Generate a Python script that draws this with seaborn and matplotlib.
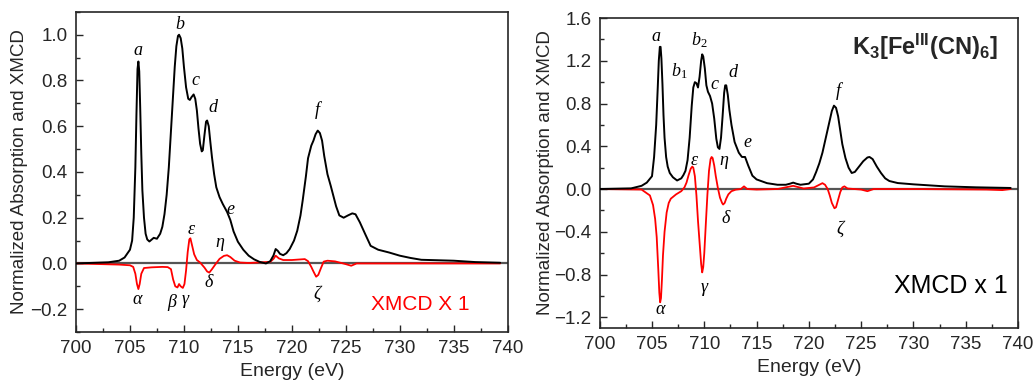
import numpy as np
import pandas as pd
import matplotlib.pyplot as plt
import seaborn as sns
from matplotlib.ticker import MultipleLocator

# ---- data ----
# left panel, absorption (black)
left_abs_e = [700, 703, 704, 704.5, 705.0, 705.2, 705.35, 705.5, 705.6, 705.7, 705.78, 705.86,
              705.95, 706.05, 706.15, 706.3, 706.45, 706.6, 706.8, 707.0, 707.2, 707.5, 707.8,
              708.0, 708.2, 708.4, 708.6, 708.8, 709.0, 709.15, 709.3, 709.45, 709.55, 709.7,
              709.85, 710.0, 710.2, 710.4, 710.55, 710.7, 710.9, 711.05, 711.2, 711.35, 711.5,
              711.65, 711.75, 711.9, 712.05, 712.15, 712.3, 712.45, 712.6, 712.8, 713.0, 713.3,
              713.6, 714.0, 714.3, 714.6, 715.0, 715.5, 716.0, 716.5, 717.0, 717.6, 718.0,
              718.3, 718.5, 718.7, 718.9, 719.2, 719.5, 719.8, 720.2, 720.5, 720.8, 721.0,
              721.3, 721.5, 721.8, 722.0, 722.2, 722.4, 722.6, 722.8, 723.0, 723.3, 723.6,
              723.8, 724.1, 724.4, 724.8, 725.2, 725.6, 725.9, 726.3, 726.8, 727.3, 728.0,
              729.0, 730.0, 731.0, 732.0, 735.0, 737.0, 739.3]
left_abs = [0.0, 0.005, 0.012, 0.026, 0.06, 0.10, 0.2, 0.42, 0.65, 0.85, 0.883, 0.84,
            0.68, 0.48, 0.32, 0.2, 0.13, 0.105, 0.096, 0.104, 0.112, 0.108, 0.13,
            0.16, 0.216, 0.3, 0.42, 0.58, 0.74, 0.86, 0.95, 0.995, 1.0, 0.985,
            0.94, 0.86, 0.77, 0.72, 0.715, 0.727, 0.739, 0.72, 0.669, 0.59, 0.523,
            0.49, 0.495, 0.56, 0.62, 0.625, 0.60, 0.53, 0.464, 0.39, 0.333, 0.29,
            0.26, 0.225, 0.19, 0.14, 0.095, 0.06, 0.034, 0.018, 0.007, 0.0, 0.01,
            0.035, 0.063, 0.055, 0.042, 0.036, 0.045, 0.063, 0.1, 0.143, 0.21, 0.274,
            0.38, 0.46, 0.515, 0.537, 0.565, 0.581, 0.57, 0.537, 0.47, 0.39, 0.34,
            0.304, 0.25, 0.21, 0.2, 0.21, 0.219, 0.215, 0.18, 0.128, 0.077, 0.06,
            0.048, 0.034, 0.024, 0.016, 0.012, 0.006, 0.003]

# left panel, XMCD (red)
left_xmcd_e = [700, 704, 705.0, 705.3, 705.5, 705.65, 705.78, 705.9, 706.05, 706.3, 707, 708,
               708.5, 708.8, 709.0, 709.2, 709.4, 709.55, 709.7, 709.9, 710.05, 710.2, 710.35,
               710.5, 710.6, 710.75, 710.95, 711.2, 711.5, 711.9, 712.15, 712.35, 712.6, 712.9,
               713.3, 713.7, 714.0, 714.3, 714.7, 715.2, 716, 718, 718.3, 718.5, 718.8,
               719.2, 720, 721.2, 721.5, 721.8, 722.0, 722.25, 722.45, 722.7, 722.95, 723.3,
               724.0, 725.0, 725.5, 726, 730, 739.3]
left_xmcd = [0.0, -0.005, -0.008, -0.015, -0.045, -0.09, -0.112, -0.09, -0.045, -0.02, -0.017, -0.015,
             -0.016, -0.025, -0.07, -0.1, -0.105, -0.09, -0.1, -0.107, -0.09, -0.03, 0.05,
             0.105, 0.11, 0.08, 0.04, 0.015, 0.004, -0.018, -0.035, -0.04, -0.025, -0.005,
             0.02, 0.033, 0.036, 0.028, 0.012, 0.004, 0.002, 0.007, 0.02, 0.034, 0.022,
             0.015, 0.015, 0.019, 0.01, -0.015, -0.035, -0.058, -0.05, -0.02, 0.008, 0.012,
             0.009, -0.003, -0.01, 0.0, 0.0, 0.0]

# right panel, absorption (black)
right_abs_e = [700, 703, 704, 704.5, 705.0, 705.2, 705.4, 705.55, 705.65, 705.75, 705.82, 705.9,
               706.0, 706.1, 706.2, 706.35, 706.5, 706.7, 707.0, 707.4, 707.8, 708.0, 708.2,
               708.4, 708.6, 708.8, 708.95, 709.1, 709.25, 709.4, 709.55, 709.7, 709.8, 709.9,
               710.05, 710.2, 710.35, 710.55, 710.75, 710.95, 711.15, 711.3, 711.45, 711.6,
               711.75, 711.9, 712.0, 712.1, 712.25, 712.4, 712.6, 712.9, 713.3, 713.6, 713.9,
               714.2, 714.6, 715.0, 716, 717, 717.8, 718.2, 718.5, 718.8, 719.2, 720.0,
               720.4, 720.7, 721.0, 721.3, 721.6, 721.9, 722.2, 722.4, 722.6, 722.8, 723.0,
               723.2, 723.5, 723.8, 724.1, 724.4, 724.8, 725.2, 725.6, 725.8, 726.1, 726.5,
               726.9, 727.3, 727.7, 728.5, 730, 733, 736, 739.3]
right_abs = [0.0, 0.006, 0.03, 0.06, 0.12, 0.3, 0.6, 0.95, 1.2, 1.33, 1.33, 1.22,
             0.98, 0.69, 0.48, 0.3, 0.21, 0.15, 0.11, 0.08, 0.1, 0.13, 0.17,
             0.27, 0.48, 0.78, 0.95, 1.0, 0.99, 0.95, 1.05, 1.2, 1.26, 1.24,
             1.13, 0.97, 0.91, 0.87, 0.8, 0.66, 0.47, 0.39, 0.375, 0.48,
             0.68, 0.9, 0.97, 0.97, 0.88, 0.74, 0.6, 0.44, 0.34, 0.30, 0.30,
             0.22, 0.125, 0.09, 0.055, 0.04, 0.04, 0.05, 0.06, 0.05, 0.04, 0.05,
             0.09, 0.16, 0.24, 0.34, 0.47, 0.6, 0.73, 0.78, 0.76, 0.68, 0.55,
             0.42, 0.29, 0.2, 0.15, 0.16, 0.21, 0.26, 0.295, 0.30, 0.28, 0.21,
             0.15, 0.1, 0.075, 0.056, 0.044, 0.025, 0.016, 0.01]

# right panel, XMCD (red)
right_xmcd_e = [700, 704, 704.8, 705.1, 705.3, 705.45, 705.6, 705.7, 705.78, 705.86, 705.95, 706.05,
                706.2, 706.4, 706.6, 706.8, 707.3, 707.8, 708.1, 708.3, 708.5, 708.7, 708.85,
                708.95, 709.1, 709.25, 709.4, 709.55, 709.7, 709.8, 709.9, 710.0, 710.15, 710.3,
                710.45, 710.6, 710.7, 710.8, 710.95, 711.1, 711.3, 711.5, 711.7, 711.8, 711.95,
                712.1, 712.3, 712.6, 713.0, 713.5, 713.8, 714.1, 715, 717, 718.5, 719.5,
                720.5, 721.0, 721.3, 721.55, 721.8, 722.0, 722.2, 722.45, 722.6, 722.8, 723.0,
                723.2, 723.4, 723.7, 725.0, 725.6, 726.2, 730, 737, 738.5, 739.3]
right_xmcd = [0.0, -0.005, -0.06, -0.15, -0.28, -0.45, -0.75, -0.97, -1.06, -1.02, -0.85, -0.62,
              -0.4, -0.22, -0.13, -0.09, -0.05, -0.02, 0.015, 0.06, 0.13, 0.19, 0.21,
              0.2, 0.12, -0.06, -0.3, -0.5, -0.7, -0.78, -0.73, -0.6, -0.32, -0.05,
              0.17, 0.28, 0.30, 0.29, 0.22, 0.12, 0.01, -0.08, -0.13, -0.145, -0.13,
              -0.09, -0.05, -0.02, -0.006, 0.0, 0.025, 0.0, -0.005, 0.0, 0.03, 0.005,
              0.015, 0.04, 0.055, 0.04, 0.0, -0.06, -0.13, -0.18, -0.17, -0.1, -0.03,
              0.015, 0.025, 0.005, -0.005, -0.02, 0.0, 0.0, -0.005, -0.01, 0.0]

# peak labels (text, energy, value)
left_black_labels = [('a', 705.7, 0.93), ('b', 709.66, 1.045), ('c', 711.1, 0.80),
                     ('d', 712.7, 0.68), ('e', 714.3, 0.238), ('f', 722.4, 0.67)]
left_red_labels = [('ε', 710.7, 0.15), ('η', 713.3, 0.092), ('δ', 712.25, -0.083),
                   ('α', 705.7, -0.156), ('β', 708.9, -0.17), ('γ', 710.15, -0.156),
                   ('ζ', 722.3, -0.134)]
right_black_labels = [('a', 705.35, 1.43), ('$b_2$', 709.56, 1.39), ('$b_1$', 707.65, 1.10),
                      ('c', 710.93, 0.975), ('d', 712.7, 1.09), ('e', 714.15, 0.44),
                      ('f', 722.85, 0.915)]
right_red_labels = [('ε', 709.08, 0.27), ('η', 711.86, 0.27), ('δ', 712.0, -0.28),
                    ('γ', 710.04, -0.92), ('α', 705.83, -1.125), ('ζ', 722.95, -0.375)]

sns.set_style('ticks', {'xtick.direction': 'in', 'ytick.direction': 'in'})
plt.rcParams['font.family'] = ['Liberation Sans', 'DejaVu Sans']
plt.rcParams['mathtext.fontset'] = 'custom'
plt.rcParams['mathtext.it'] = 'Liberation Serif:italic'
plt.rcParams['mathtext.rm'] = 'Liberation Serif'
plt.rcParams['mathtext.bf'] = 'Liberation Sans:bold'

fig = plt.figure(figsize=(10.34, 3.83), dpi=100)
ax1 = fig.add_axes([0.0735, 0.133, 0.4175, 0.836])
ax2 = fig.add_axes([0.580, 0.1436, 0.4045, 0.8094])

label_font = dict(family=['Liberation Serif', 'DejaVu Serif'], style='italic',
                  fontsize=13, ha='center', va='center')


def draw_panel(ax, abs_e, abs_y, xm_e, xm_y, black_labels, red_labels, ypad):
    ax.axhline(0, color='#555555', lw=1.6, zorder=1)
    sns.lineplot(x=abs_e, y=abs_y, ax=ax, color='black', lw=1.4,
                 sort=False, estimator=None, zorder=3)
    sns.lineplot(x=xm_e, y=xm_y, ax=ax, color='red', lw=1.3,
                 sort=False, estimator=None, zorder=2)
    for t, x, y in black_labels + red_labels:
        ax.text(x, y, t, color='black', **label_font)
    ax.set_xlim(700, 740)
    ax.xaxis.set_major_locator(MultipleLocator(5))
    ax.xaxis.set_minor_locator(MultipleLocator(2.5))
    ax.tick_params(which='both', direction='in', labelsize=13.5, width=1)
    ax.tick_params(which='major', length=5)
    ax.tick_params(which='minor', length=3)
    ax.tick_params(axis='x', which='both', pad=6)
    ax.tick_params(axis='y', which='both', pad=6)
    for s in ax.spines.values():
        s.set_linewidth(1.2)
        s.set_visible(True)
    ax.set_xlabel('Energy (eV)', fontsize=14, labelpad=4)
    ax.set_ylabel('Normalized Absorption and XMCD', fontsize=13.5, labelpad=ypad)


# Panel 1
draw_panel(ax1, left_abs_e, left_abs, left_xmcd_e, left_xmcd,
           left_black_labels, left_red_labels, 2)
ax1.set_ylim(-0.3, 1.1)
ax1.yaxis.set_major_locator(MultipleLocator(0.2))
ax1.yaxis.set_minor_locator(MultipleLocator(0.1))
ax1.text(731.9, -0.18, 'XMCD X 1', color='red', fontsize=15, ha='center', va='center')

# Panel 2
draw_panel(ax2, right_abs_e, right_abs, right_xmcd_e, right_xmcd,
           right_black_labels, right_red_labels, 0)
ax2.set_ylim(-1.3, 1.6)
ax2.yaxis.set_major_locator(MultipleLocator(0.4))
ax2.yaxis.set_minor_locator(MultipleLocator(0.2))
ax2.text(731.1, 1.33, r'$\mathbf{K_3[Fe^{III}(CN)_6]}$', fontsize=17,
         ha='center', va='center')
ax2.text(733.6, -0.906, 'XMCD x 1', color='black', fontsize=18, ha='center', va='center')

plt.savefig('out.png', dpi=100)
